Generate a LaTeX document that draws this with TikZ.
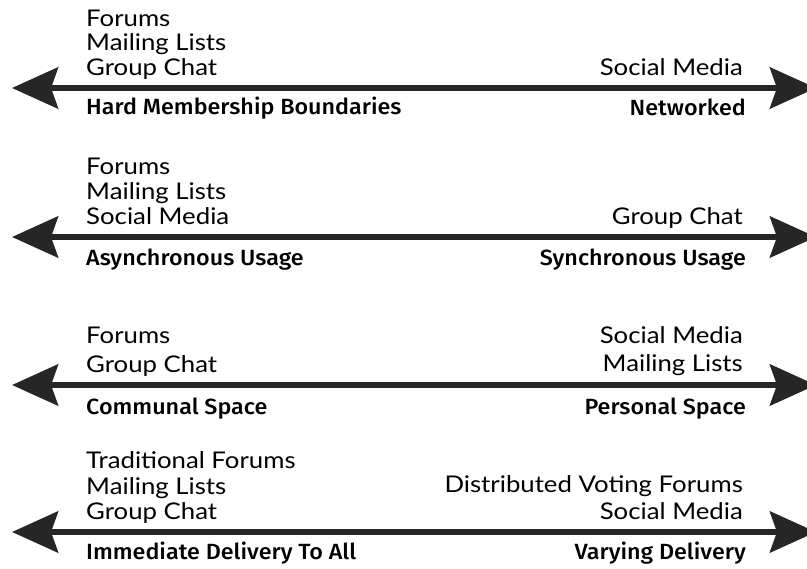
\documentclass[tikz,border=0pt]{standalone}
\usepackage{fontspec}
\setmainfont{Lato}[FakeStretch=1.12]
\newfontfamily\headfont{Fira Sans}[UprightFont=* Medium, FakeStretch=1.06]
\usetikzlibrary{arrows.meta}
\definecolor{ink}{HTML}{262626}
\tikzset{
  axis/.style={draw=ink, line width=6.5pt,
    {Stealth[length=46pt,width=41pt,inset=7pt]}-{Stealth[length=46pt,width=41pt,inset=7pt]}},
  item/.style={inner sep=0pt, text=black, font=\fontsize{23}{26}\selectfont},
  itemL/.style={item, anchor=base west},
  itemR/.style={item, anchor=base east},
  pole/.style={inner sep=0pt, text=black, font=\headfont\fontsize{22}{26}\selectfont},
  poleL/.style={pole, anchor=base west},
  poleR/.style={pole, anchor=base east},
}
\begin{document}
\begin{tikzpicture}[x=1pt,y=-1pt]
\useasboundingbox (0,0) rectangle (807,569);
\clip (0,0) rectangle (807,569);

% Spectrum 1: membership
\coordinate (a1) at (12,88);
\coordinate (b1) at (816,88);
\draw[axis] (a1) -- (b1);
\node[itemL] (s1l1) at (86,26.5) {Forums};
\node[itemL] (s1l2) at (86,51) {Mailing Lists};
\node[itemL] (s1l3) at (86,75.5) {Group Chat};
\node[itemR] (s1r1) at (743,76) {Social Media};
\node[poleL] (s1p) at (86,115) {Hard Membership Boundaries};
\node[poleR] (s1q) at (746,116) {Networked};

% Spectrum 2: timing of usage
\coordinate (a2) at (12,237);
\coordinate (b2) at (816,237);
\draw[axis] (a2) -- (b2);
\node[itemL] (s2l1) at (86,175) {Forums};
\node[itemL] (s2l2) at (86,200) {Mailing Lists};
\node[itemL] (s2l3) at (86,224.5) {Social Media};
\node[itemR] (s2r1) at (743,225) {Group Chat};
\node[poleL] (s2p) at (86,266) {Asynchronous Usage};
\node[poleR] (s2q) at (746,266) {Synchronous Usage};

% Spectrum 3: ownership of space
\coordinate (a3) at (12,385);
\coordinate (b3) at (816,385);
\draw[axis] (a3) -- (b3);
\node[itemL] (s3l1) at (86,344) {Forums};
\node[itemL] (s3l2) at (86,373) {Group Chat};
\node[itemR] (s3r1) at (743,344) {Social Media};
\node[itemR] (s3r2) at (743,372) {Mailing Lists};
\node[poleL] (s3p) at (86,415) {Communal Space};
\node[poleR] (s3q) at (746,415) {Personal Space};

% Spectrum 4: delivery
\coordinate (a4) at (12,532);
\coordinate (b4) at (816,532);
\draw[axis] (a4) -- (b4);
\node[itemL] (s4l1) at (86,469) {Traditional Forums};
\node[itemL] (s4l2) at (86,495) {Mailing Lists};
\node[itemL] (s4l3) at (86,520) {Group Chat};
\node[itemR] (s4r1) at (743,493) {Distributed Voting Forums};
\node[itemR] (s4r2) at (743,520) {Social Media};
\node[poleL] (s4p) at (86,560) {Immediate Delivery To All};
\node[poleR] (s4q) at (746,560) {Varying Delivery};
\end{tikzpicture}
\end{document}
